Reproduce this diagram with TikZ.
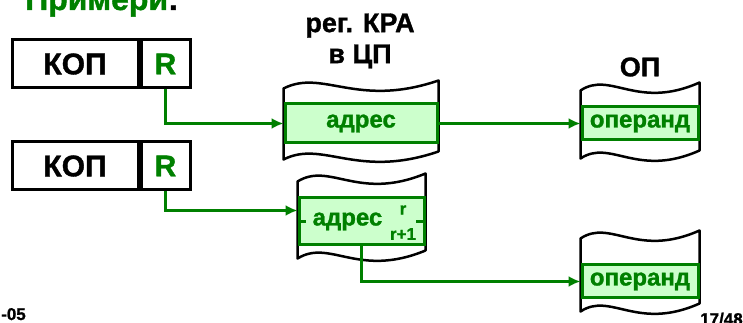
\documentclass[tikz,border=0pt]{standalone}
\usepackage{fontspec}
\setmainfont{Liberation Sans}[BoldFeatures={FakeBold=1.2}]
\usepackage{tikz}
\usetikzlibrary{arrows.meta,positioning,backgrounds,calc}
\definecolor{dkgreen}{RGB}{0,128,0}
\definecolor{ltgreen}{RGB}{204,255,204}
\tikzstyle{kop} = [rectangle, draw=black, line width=3pt, minimum height=48pt, inner sep=0pt, font=\bfseries\fontsize{30}{30}\selectfont]
\tikzstyle{band} = [rectangle, draw=dkgreen, fill=ltgreen, line width=3pt, inner sep=0pt, text=dkgreen, font=\bfseries\fontsize{24}{24}\selectfont]
\tikzstyle{lbl} = [inner sep=0pt, font=\bfseries\fontsize{27}{31}\selectfont, align=center]
\tikzstyle{sml} = [inner sep=0pt, font=\bfseries\fontsize{17}{17}\selectfont]
\tikzstyle{memline} = [draw=black, line width=2.5pt, fill=white, line join=round]
\tikzstyle{tedge} = [draw=dkgreen, line width=3pt, -{Latex[length=12pt,width=11pt]}]
\tikzstyle{tick} = [draw=dkgreen, line width=3pt]
% wavy memory frame round a band: node, width, top gap, bottom gap
\newcommand{\memframe}[4]{%
  \draw[memline] ([yshift=#3]#1.north west) .. controls +(0.26*#2,20) and +(-0.54*#2,-28) .. ([yshift=#3+8]#1.north east)
    -- ([yshift=-#4+8]#1.south east) .. controls +(-0.54*#2,-28) and +(0.26*#2,20) .. ([yshift=-#4]#1.south west) -- cycle;
}

\begin{document}
\begin{tikzpicture}[x=1pt,y=1pt]
\useasboundingbox (0,0) rectangle (743,323);

% title =============================
\node[anchor=base west, inner sep=0pt, text=dkgreen, font=\bfseries\fontsize{32}{32}\selectfont] (title) at (25,313) {Примери\textcolor{black}{:}};

% instructions
\node[kop, minimum width=126pt] (kop1) at (75,259) {КОП};
\node[kop, minimum width=49pt, anchor=west, text=dkgreen] (r1) at (kop1.east) {R};
\node[kop, minimum width=126pt] (kop2) at (75,157) {КОП};
\node[kop, minimum width=49pt, anchor=west, text=dkgreen] (r2) at (kop2.east) {R};

% register and memory
\node[lbl] (kra) at (360,282) {рег. КРА\\в ЦП};
\node[band, minimum width=152pt, minimum height=39pt] (adr1) at (361,199.5) {адрес};
\node[lbl] (op) at (640,256) {ОП};
\node[band, minimum width=116pt, minimum height=33pt] (op1) at (640,199.5) {операнд};

\node[band, minimum width=125pt, minimum height=47pt] (adr2) at (361.5,101.5) {};
\node[band, fill=none, draw=none] (adr2t) at (347.5,101.5) {адрес};
\node[sml, text=dkgreen] (rr) at (403,113) {r};
\node[sml, text=dkgreen] (rr1) at (403,89) {r+1};
\node[band, minimum width=116pt, minimum height=33pt] (op2) at (640,41.5) {операнд};

\begin{scope}[on background layer]
\memframe{adr1}{152}{14}{15}
\memframe{op1}{116}{15}{17}
\memframe{adr2}{125}{15}{12}
\memframe{op2}{116}{25}{12}
\end{scope}

% footer
\node[sml, anchor=base west] (pg1) at (1,3) {-05};
\node[sml, anchor=base west] (pg2) at (700,-2) {17/48};

%edges
\path[tedge] (r1.south) |- (adr1.west);
\path[tedge] (adr1.east) -- (op1.west);
\path[tedge] (r2.south) |- ([yshift=11pt]adr2.west);
\path[tedge] (adr2.south) |- (op2.west);
\path[tick] (adr2.west) -- ++(8,0);
\path[tick] (adr2.east) -- ++(-10,0);

\end{tikzpicture}
\end{document}
